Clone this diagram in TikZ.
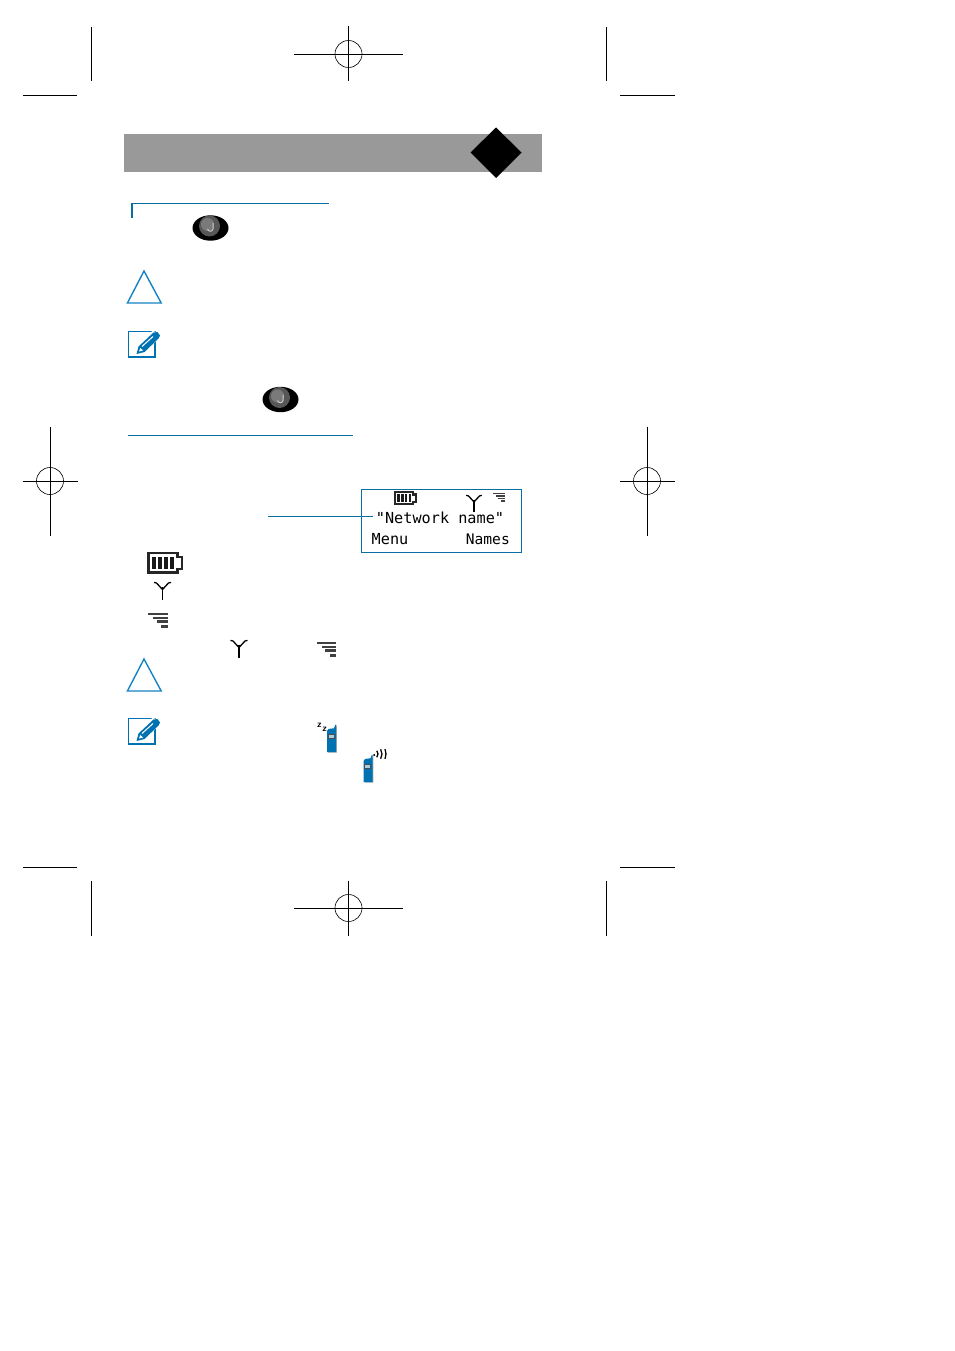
\documentclass[tikz,border=0pt]{standalone}
\usepackage{fontspec}
\setmonofont{DejaVu Sans Mono}
\usetikzlibrary{arrows.meta,positioning,calc}
\definecolor{phoneblue}{RGB}{0,114,178}
\definecolor{warnblue}{RGB}{20,130,195}
\definecolor{band}{RGB}{153,153,153}
\definecolor{screenblue}{RGB}{10,110,165}
\tikzset{
  cropline/.style={draw=black,line width=0.6pt},
  rule/.style={draw=screenblue,line width=0.9pt},
  screentxt/.style={font=\fontsize{15.2}{16}\selectfont\ttfamily,inner sep=0pt,text=black},
  softkey/.style={screentxt,font=\fontsize{14.6}{16}\selectfont\ttfamily},
  warning/.style={draw=warnblue,line width=1.4pt,line join=miter},
  notebox/.style={draw=phoneblue,line width=1.3pt,fill=white},
  battery/.pic={
    \draw[black!85,line width=2.3pt] (1,1)--(30,1)--(30,5)--(34.5,5)--(34.5,17)--(30,17)--(30,20.5)--(1,20.5)--cycle;
    \foreach \p in {7,13,19,25}{\fill[black!90] (\p-2.2,4.5)rectangle(\p+1.6,17);}
  },
  antenna/.pic={
    \draw[black,line width=1.3pt] (0,5)--(0,18);
    \draw[black,line width=1.3pt,line join=round] (-8.5,0.4)--(-6,1)--(0,7.5)--(6,1)--(8.5,0.4);
  },
  signal/.pic={
    \foreach \a/\y/\h in {0/0/2,5/3.7/2.2,8.5/7.4/2.2,13/12/3.2}{\fill[black!75] (\a,\y)rectangle(19.7,\y+\h);}
  },
  joybtn/.pic={
    \fill[black] (0,0) ellipse[x radius=18,y radius=12.7];
    \fill[black!66] (-1,-2) circle[radius=10.5];
    \fill[black!52] (-3,-3.5) circle[radius=6.5];
    \draw[black!20,line width=1pt] (2.5,-5)--(2.5,1)..controls (2,4) and (-2,4) ..(-3,1);
  },
  notepen/.pic={
    \draw[notebox] (0,0) rectangle (26.5,25.5);
    \fill[white] (6,22)--(24,-1)--(33,3)--(16,23)--cycle;
    \fill[phoneblue] (8,22.5)--(10,15)--(25,1)--(29,0.5)--(31.5,4)--(30,7)--(16,20.5)--cycle;
    \draw[white,line width=1pt] (13.5,15)--(24.5,5);
    \fill[white] (10.5,20)--(11.7,16.5)--(14.6,19)--cycle;
  },
  handset/.pic={
    \fill[black!35] (8.6,0.6)--(9.9,-3.5)--(9.9,24.6)--(1,24.6)--(1,2)--cycle;
    \fill[phoneblue] (0,3)..controls (0,1) and (2,0.5) ..(7,0.4)--(8.3,-3.2)--(9.2,-3.2)--(9.2,24)--(0,24)--cycle;
    \draw[black!70,line width=0.5pt,fill=phoneblue!35] (1.2,6.6) rectangle (7.2,10.6);
  },
}
\begin{document}
\begin{tikzpicture}[x=1pt,y=-1pt]
  \useasboundingbox (0,0) rectangle (954,1351);
  % registration targets
  \foreach \x/\y/\a/\b in {348.5/54/54.5/27.5, 348.5/908/54.5/27.5, 50/481/27.5/54.5, 647/481/27.5/54.5}{
    \draw[cropline] (\x-\a,\y)--(\x+\a,\y);
    \draw[cropline] (\x,\y-\b)--(\x,\y+\b);
    \draw[cropline] (\x,\y) circle[radius=13.5];}
  % corner marks
  \foreach \x in {91,606}{\draw[cropline] (\x,27)--(\x,81); \draw[cropline] (\x,881)--(\x,936);}
  \foreach \a/\b in {23/77,620/675}{\draw[cropline] (\a,95.5)--(\b,95.5); \draw[cropline] (\a,867.5)--(\b,867.5);}
  % title band
  \fill[band] (124,134) rectangle (542,172);
  \fill[black] (496,127.5)--(521.5,152.5)--(496,178)--(470.5,152.5)--cycle;
  % headings
  \draw[rule] (131,203.5)--(329,203.5);
  \draw[screenblue,line width=2pt] (132,203)--(132,218);
  \draw[rule] (128,435.5)--(353,435.5);
  % icons of the text column
  \pic at (210.5,228) {joybtn};
  \pic at (280.5,399.5) {joybtn};
  \foreach \y in {0,388}{
    \draw[warning] (144,271+\y)--(161.2,303+\y)--(127.4,303+\y)--cycle;}
  \pic at (128.5,331.5) {notepen};
  \pic at (128.5,718.5) {notepen};
  % display
  \node[draw=screenblue,line width=0.9pt,minimum width=160pt,minimum height=62.5pt,inner sep=0pt] (screen) at (441.5,521) {};
  \node[screentxt,anchor=base] (netname) at (440,523) {"Network name"};
  \node[screentxt,anchor=base west] (menu) at (371.5,544.5) {Menu};
  \node[softkey,anchor=base east] (names) at (510,544.5) {Names};
  \coordinate (leader) at (268,516.5);
  \draw[rule] (leader)--($(netname.west|-leader)+(-3,0)$);
  \pic[scale=0.62] at (394.5,491.5) {battery};
  \pic[scale=0.92] at (474,495) {antenna};
  \pic[scale=0.62] at (493,493) {signal};
  % legend icons
  \pic at (147.5,552) {battery};
  \pic at (162.5,582) {antenna};
  \pic at (239,640) {antenna};
  \pic at (148,613) {signal};
  \pic at (316.5,642) {signal};
  % phones
  \pic at (327,728) {handset};
  \node[font=\fontsize{9.5}{9}\selectfont\bfseries\sffamily,inner sep=0pt] (zone) at (319.3,725.5) {z};
  \node[font=\fontsize{9.5}{9}\selectfont\bfseries\sffamily,inner sep=0pt,right=0.3pt of zone,yshift=-3.5pt] (ztwo) {z};
  \pic at (363.5,758) {handset};
  \fill[black] (374.2,755) circle[radius=1.1];
  \foreach \r/\t in {5/40,9/32,13/22}{
    \draw[black,line width=1.3pt] (373,754) ++(-\t:\r) arc[start angle=-\t,end angle=\t,radius=\r];}
\end{tikzpicture}
\end{document}
